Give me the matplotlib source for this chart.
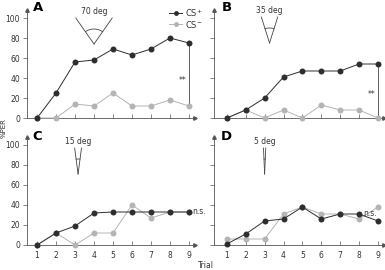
import numpy as np
import matplotlib
matplotlib.use("Agg")
import matplotlib.pyplot as plt

trials = [1, 2, 3, 4, 5, 6, 7, 8, 9]
yticks = [0, 20, 40, 60, 80, 100]

# %PER per trial
a_plus = [0, 25, 56, 58, 69, 63, 69, 80, 75]
a_minus = [0, 0, 14, 12, 25, 12, 12, 18, 12]
b_plus = [0, 8, 20, 41, 47, 47, 47, 54, 54]
b_minus = [0, 8, 0, 8, 0, 13, 8, 8, 0]
c_plus = [0, 12, 19, 32, 33, 33, 33, 33, 33]
c_minus = [0, 12, 0, 12, 12, 40, 27, 33, 33]
d_plus = [1, 11, 24, 26, 38, 26, 31, 31, 24]
d_minus = [6, 6, 6, 31, 38, 31, 31, 26, 38]

angles = [70, 35, 15, 5]
letters = ["A", "B", "C", "D"]
stats = ["**", "**", "n.s.", "n.s."]

DARK = "#2e2e2e"
LIGHT = "#b4b4b4"
AXC = "#555555"

W, H = 385, 270
fig = plt.figure(figsize=(W / 100, H / 100), dpi=100)


def px_axes(left, bottom_px, right, top_px):
    return fig.add_axes([left / W, (H - bottom_px) / H,
                         (right - left) / W, (bottom_px - top_px) / H])


axA = px_axes(27, 118, 195, 10)
axB = px_axes(214, 118, 384, 10)
axC = px_axes(27, 245, 195, 137)
axD = px_axes(214, 245, 384, 137)
axes = [axA, axB, axC, axD]
xlims = [(0.47, 9.32), (0.32, 9.32), (0.47, 9.32), (0.32, 9.32)]

series = [(a_plus, a_minus), (b_plus, b_minus), (c_plus, c_minus), (d_plus, d_minus)]


def draw_angle(ax, xa, ya, deg, label, px_x, px_y):
    # V-shaped stimulus drawn at its true opening angle (in pixels)
    half = np.radians(deg / 2)
    h = 26
    L = h / np.cos(half)
    dx = L * np.sin(half)
    for s in (-1, 1):
        ax.plot([xa, xa + s * dx / px_x], [ya, ya + h / px_y],
                color="#444444", lw=0.6, clip_on=False)
    r = 15
    t = np.linspace(np.pi / 2 - half, np.pi / 2 + half, 30)
    ax.plot(xa + r * np.cos(t) / px_x, ya + r * np.sin(t) / px_y,
            color="#444444", lw=0.6, clip_on=False)
    ax.text(xa, ya + h + 2, label, ha="center", va="bottom",
            fontsize=5.5, color="#333333")


apexes = [(4.0, 74), (3.26, 75), (3.16, 71), (3.0, 71)]
letter_x = [0.036, 0.047, 0.03, 0.04]
letter_y = [1.02, 1.02, 1.0, 1.0]

for i, ax in enumerate(axes):
    plus, minus = series[i]
    ax.set_xlim(*xlims[i])
    ax.set_ylim(0, 108)
    ax.plot(trials, minus, "-o", color=LIGHT, lw=0.7, ms=4.3, mew=0,
            clip_on=False, zorder=3)
    ax.plot(trials, plus, "-o", color=DARK, lw=0.7, ms=4.3, mew=0,
            clip_on=False, zorder=4)

    for s in ["top", "right"]:
        ax.spines[s].set_visible(False)
    for s in ["left", "bottom"]:
        ax.spines[s].set_color(AXC)
        ax.spines[s].set_linewidth(0.6)
    ax.plot(1, 0, ">", color=AXC, ms=2.5, transform=ax.transAxes, clip_on=False)
    ax.plot(0, 1, "^", color=AXC, ms=2.5, transform=ax.transAxes, clip_on=False)

    ax.set_xticks(trials)
    ax.set_yticks(yticks)
    ax.tick_params(axis="x", direction="in", length=3, width=0.5, color=AXC,
                   labelsize=5.5, labelcolor="#333333", pad=4)
    ax.tick_params(axis="y", direction="out", length=3, width=0.5, color=AXC,
                   labelsize=5.5, labelcolor="#333333", pad=2)
    if i in (1, 3):
        ax.set_yticklabels([])
    if i in (0, 1):
        ax.set_xticklabels([])

    ax.text(letter_x[i], letter_y[i], letters[i], transform=ax.transAxes,
            fontsize=9.5, fontweight="bold", ha="left", va="center")

    px_x = (ax.get_position().width * W) / (xlims[i][1] - xlims[i][0])
    px_y = (ax.get_position().height * H) / 108
    xa, ya = apexes[i]
    draw_angle(ax, xa, ya, angles[i], f"{angles[i]} deg", px_x, px_y)

# significance markers
axA.plot([9, 9], [a_minus[-1], a_plus[-1]], color="#444444", lw=0.6, zorder=2)
axA.text(8.85, 38, stats[0], ha="right", va="center", fontsize=5.5, color="#333333")
axB.plot([9, 9], [b_minus[-1], b_plus[-1]], color="#444444", lw=0.6, zorder=2)
axB.text(8.85, 24, stats[1], ha="right", va="center", fontsize=5.5, color="#333333")
axC.text(9.2, 34, stats[2], ha="left", va="center", fontsize=5.5,
         color="#333333", clip_on=False)
axD.text(8.6, 31, stats[3], ha="center", va="center", fontsize=5.5,
         color="#333333", clip_on=False)

# legend drawn by hand
for yv, col, lab in [(105, DARK, "CS$^{+}$"), (94, LIGHT, "CS$^{-}$")]:
    axA.plot([7.95, 8.65], [yv, yv], color=col, lw=0.7, clip_on=False)
    axA.plot([8.3], [yv], "o", color=col, ms=3.5, mew=0, clip_on=False)
    axA.text(8.8, yv, lab, ha="left", va="center", fontsize=6, color="#333333")

fig.text(3.5 / W, 1 - 128 / H, "%PER", rotation=90, ha="center", va="center",
         fontsize=5, color="#333333")
fig.text(206 / W, 1 - 265 / H, "Trial", ha="center", va="center",
         fontsize=5.5, color="#333333")

fig.savefig("out.png", dpi=100)
